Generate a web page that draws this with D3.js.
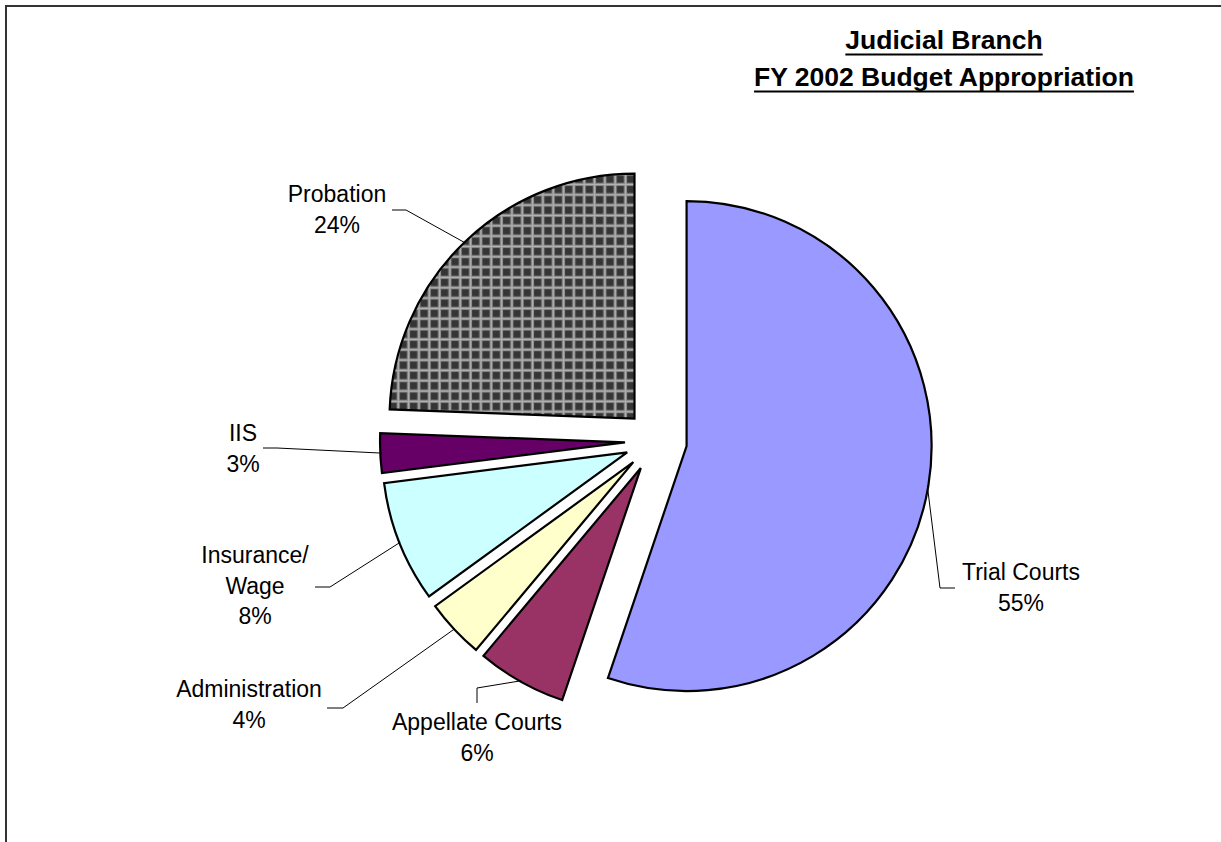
<!DOCTYPE html>
<html>
<head>
<meta charset="utf-8">
<script src="https://cdn.jsdelivr.net/npm/d3@7"></script>
<style>
  html, body { margin: 0; padding: 0; background: #fff; }
  svg { display: block; }
  text { font-family: "Liberation Sans", Arial, sans-serif; fill: #000; }
</style>
</head>
<body>
<svg id="chart" width="1221" height="842"></svg>
<script>
// ---- data ----
const categories = ["Trial Courts", "Appellate Courts", "Administration", "Insurance/ Wage", "IIS", "Probation"];
const values = [55.2, 5.9, 3.9, 8.0, 2.6, 24.4];
const labelLines = [["Trial Courts"], ["Appellate Courts"], ["Administration"], ["Insurance/", "Wage"], ["IIS"], ["Probation"]];
const titleLines = ["Judicial Branch", "FY 2002 Budget Appropriation"];

// ---- styles / layout ----
const sliceColors = ["#9999FF", "#993366", "#FFFFCC", "#CCFFFF", "#660066", "url(#probPattern)"];
const cx = 656, cy = 441, radius = 245, explode = 31;
// label anchor (centre x, first baseline y) and leader elbow/end points
const labelLayout = [
  { x: 1021, y: 580, elbow: [940, 588], end: [955, 588] },
  { x: 477,  y: 730, elbow: [477, 688], end: [477, 703] },
  { x: 249,  y: 697, elbow: [343, 708], end: [327, 708] },
  { x: 255,  y: 563, elbow: [330, 587], end: [315, 587] },
  { x: 243,  y: 441, elbow: [277, 448], end: [263, 448] },
  { x: 337,  y: 202, elbow: [406, 210], end: [392, 210] }
];
const lineGap = 30.5;

const svg = d3.select("#chart");
const total = d3.sum(values);

// pattern for Probation
const defs = svg.append("defs");
const ps = 10.33;
const pat = defs.append("pattern").attr("id", "probPattern")
  .attr("patternUnits", "userSpaceOnUse").attr("width", ps).attr("height", ps)
  .attr("x", 0).attr("y", 2);
pat.append("rect").attr("width", ps).attr("height", ps).attr("fill", "#8c8c8c");
pat.append("rect").attr("x", 0).attr("y", 0.9).attr("width", ps).attr("height", 0.9).attr("fill", "#b5b5b5");
pat.append("rect").attr("x", 0.9).attr("y", 0).attr("width", 0.9).attr("height", ps).attr("fill", "#b5b5b5");
pat.append("rect").attr("x", 2.9).attr("y", 2.9).attr("width", ps - 3.2).attr("height", ps - 3.2).attr("fill", "#353535");

// border
svg.append("rect").attr("x", 6).attr("y", 6).attr("width", 1400).attr("height", 1000)
  .attr("fill", "none").attr("stroke", "#333").attr("stroke-width", 2);

// title
const titleG = svg.append("g");
const titleX = 944, titleY = [49, 86];
titleLines.forEach((t, i) => {
  const tx = titleG.append("text").attr("x", titleX).attr("y", titleY[i])
    .attr("text-anchor", "middle").attr("font-size", 26.5).attr("font-weight", "bold").text(t);
  const w = tx.node().getComputedTextLength();
  titleG.append("line").attr("x1", titleX - w / 2).attr("x2", titleX + w / 2)
    .attr("y1", titleY[i] + 5.5).attr("y2", titleY[i] + 5.5)
    .attr("stroke", "#000").attr("stroke-width", 2);
});

// pie
const pie = d3.pie().sort(null).value(d => d);
const arcs = pie(values);
const arc = d3.arc().innerRadius(0).outerRadius(radius);

const g = svg.append("g").attr("transform", `translate(${cx},${cy})`);
arcs.forEach((a, i) => {
  const mid = (a.startAngle + a.endAngle) / 2;
  const dx = Math.sin(mid) * explode, dy = -Math.cos(mid) * explode;
  g.append("path").attr("d", arc(a))
    .attr("transform", `translate(${dx},${dy})`)
    .attr("fill", sliceColors[i]).attr("stroke", "#000").attr("stroke-width", 2.2)
    .attr("stroke-linejoin", "miter");
});

// leader lines & labels
const labG = svg.append("g");
arcs.forEach((a, i) => {
  const mid = (a.startAngle + a.endAngle) / 2;
  const sx = cx + Math.sin(mid) * (explode + radius - 1);
  const sy = cy - Math.cos(mid) * (explode + radius - 1);
  const L = labelLayout[i];
  labG.append("polyline")
    .attr("points", [[sx, sy], L.elbow, L.end].map(p => p.join(",")).join(" "))
    .attr("fill", "none").attr("stroke", "#000").attr("stroke-width", 1);
  const lines = labelLines[i].concat([Math.round(values[i] / total * 100) + "%"]);
  const t = labG.append("text").attr("text-anchor", "middle").attr("font-size", 23);
  lines.forEach((ln, j) => {
    t.append("tspan").attr("x", L.x).attr("y", L.y + j * lineGap).text(ln);
  });
});
</script>
</body>
</html>
